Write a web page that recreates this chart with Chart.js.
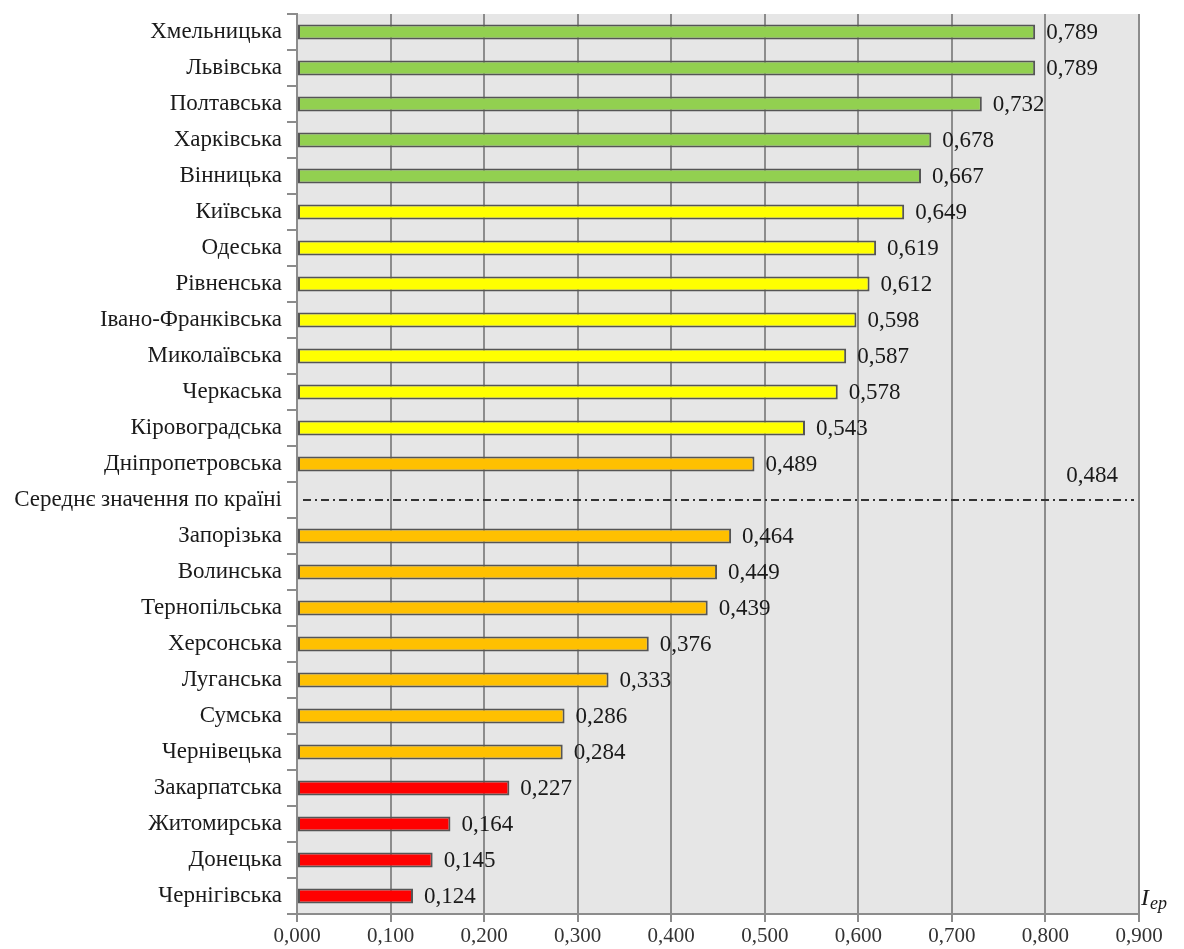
<!DOCTYPE html>
<html>
<head>
<meta charset="utf-8">
<script src="https://cdn.jsdelivr.net/npm/chart.js@4"></script>
<style>
  html, body { margin: 0; padding: 0; background: #fff; }
  #wrap { width: 1184px; height: 949px; }
</style>
</head>
<body>
<div id="wrap"><canvas id="c" width="1184" height="949"></canvas></div>
<script>
  // regions, top to bottom; the average row has no bar
  const regions = ["Хмельницька", "Львівська", "Полтавська", "Харківська", "Вінницька",
    "Київська", "Одеська", "Рівненська", "Івано-Франківська", "Миколаївська", "Черкаська",
    "Кіровоградська", "Дніпропетровська", "Середнє значення по країні", "Запорізька",
    "Волинська", "Тернопільська", "Херсонська", "Луганська", "Сумська", "Чернівецька",
    "Закарпатська", "Житомирська", "Донецька", "Чернігівська"];
  const values = [0.789, 0.789, 0.732, 0.678, 0.667,
    0.649, 0.619, 0.612, 0.598, 0.587, 0.578,
    0.543, 0.489, null, 0.464,
    0.449, 0.439, 0.376, 0.333, 0.286, 0.284,
    0.227, 0.164, 0.145, 0.124];
  const groups = ["g", "g", "g", "g", "g",
    "y", "y", "y", "y", "y", "y",
    "y", "o", "", "o",
    "o", "o", "o", "o", "o", "o",
    "r", "r", "r", "r"];
  const AVG_LABEL = "Середнє значення по країні";
  const avgValue = 0.484;
  const xTicks = [0, 0.1, 0.2, 0.3, 0.4, 0.5, 0.6, 0.7, 0.8, 0.9];

  const groupColors = { g: "#92d050", y: "#ffff00", o: "#ffc000", r: "#ff0000", "": "rgba(0,0,0,0)" };
  const FONT = "'Liberation Serif', 'Times New Roman', serif";

  function fmt(v, d) { return v.toFixed(d).replace(".", ","); }

  const plotBg = {
    id: "plotBg",
    beforeDraw(chart) {
      const a = chart.chartArea, ctx = chart.ctx;
      ctx.save();
      ctx.fillStyle = "#e6e6e6";
      ctx.fillRect(a.left, a.top, a.right - a.left, a.bottom - a.top);
      ctx.restore();
    }
  };

  const extras = {
    id: "extras",
    afterDatasetsDraw(chart) {
      const ctx = chart.ctx, a = chart.chartArea;
      const xs = chart.scales.x, ys = chart.scales.y;
      ctx.save();
      // value labels
      ctx.font = "23px " + FONT;
      ctx.fillStyle = "#1a1a1a";
      ctx.textAlign = "left";
      ctx.textBaseline = "middle";
      values.forEach(function (v, i) {
        if (v === null) return;
        ctx.fillText(fmt(v, 3), xs.getPixelForValue(v) + 11, ys.getPixelForValue(i) + 1);
      });
      // average line across the plot
      const yAvg = ys.getPixelForValue(regions.indexOf(AVG_LABEL));
      ctx.strokeStyle = "#333";
      ctx.lineWidth = 2;
      ctx.setLineDash([8, 4, 2, 4]);
      ctx.beginPath();
      ctx.moveTo(a.left + 6, yAvg);
      ctx.lineTo(a.right - 5, yAvg);
      ctx.stroke();
      ctx.setLineDash([]);
      ctx.textAlign = "right";
      ctx.fillText(fmt(avgValue, 3), a.right - 21, yAvg - 24);
      // axis name
      ctx.textAlign = "left";
      ctx.textBaseline = "alphabetic";
      ctx.font = "italic 24px " + FONT;
      ctx.fillText("I", a.right + 2, a.bottom - 9);
      ctx.font = "italic 18px " + FONT;
      ctx.fillText("ер", a.right + 11, a.bottom - 5);
      ctx.restore();
    }
  };

  new Chart(document.getElementById("c"), {
    type: "bar",
    data: {
      labels: regions,
      datasets: [{
        data: values,
        backgroundColor: groups.map(function (g) { return groupColors[g]; }),
        borderColor: "#555",
        borderWidth: 2,
        borderSkipped: false,
        categoryPercentage: 1,
        barPercentage: 0.42
      }]
    },
    options: {
      indexAxis: "y",
      responsive: false,
      animation: false,
      layout: { padding: { top: 14, right: 45, bottom: 0, left: 0 } },
      plugins: { legend: { display: false }, tooltip: { enabled: false } },
      scales: {
        x: {
          min: 0, max: 0.9,
          afterBuildTicks(scale) { scale.ticks = xTicks.map(function (v) { return { value: v }; }); },
          afterFit(scale) { scale.height = 35; },
          grid: { color: "#8c8c8c", lineWidth: 2, tickLength: 8, drawTicks: true },
          border: { color: "#8c8c8c", width: 2 },
          ticks: {
            color: "#333", padding: 2, maxRotation: 0,
            font: { family: FONT, size: 21 },
            callback: function (v) { return fmt(v, 3); }
          }
        },
        y: {
          afterFit(scale) {
            scale.width = 297;
            scale.paddingTop = 0;
            scale.paddingBottom = 0;
          },
          grid: { offset: true, drawOnChartArea: false, color: "#8c8c8c", lineWidth: 2, tickLength: 10 },
          border: { color: "#8c8c8c", width: 2 },
          ticks: { color: "#1a1a1a", padding: 5, autoSkip: false, font: { family: FONT, size: 23 } }
        }
      }
    },
    plugins: [plotBg, extras]
  });
</script>
</body>
</html>
